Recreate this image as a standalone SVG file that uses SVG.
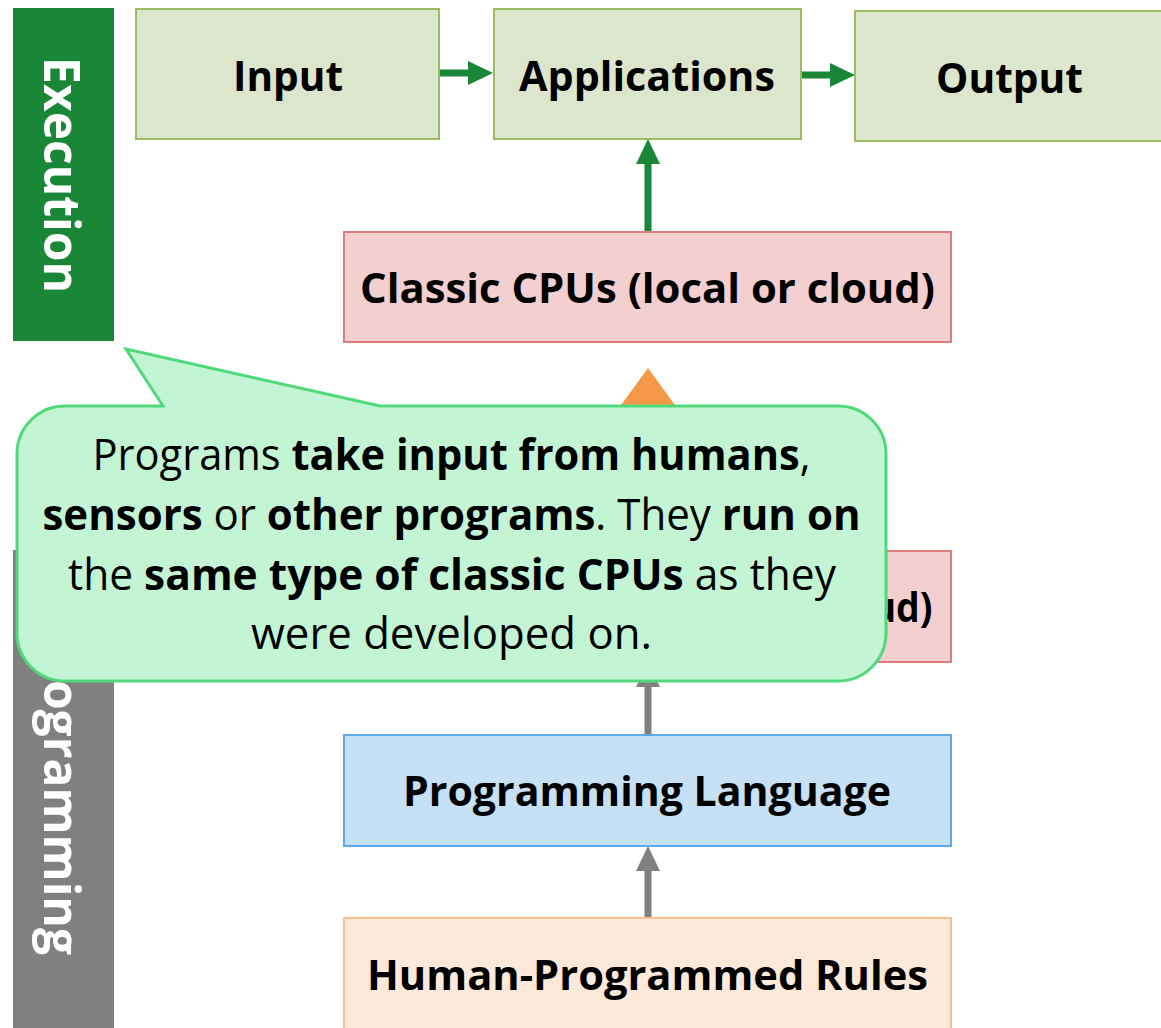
<svg xmlns="http://www.w3.org/2000/svg" width="1161" height="1028" viewBox="0 0 1161 1028">
  <style>
    .lbl { font-family: "Open Sans", "Noto Sans", "Liberation Sans", sans-serif; font-weight: 700; font-size: 42px; fill: #000; text-anchor: middle; }
    .bar { font-family: "Open Sans", "Noto Sans", "Liberation Sans", sans-serif; font-weight: 700; font-size: 51px; fill: #fff; }
    .note { font-family: "Open Sans", "Noto Sans", "Liberation Sans", sans-serif; font-size: 43.5px; fill: #000; text-anchor: middle; }
    .note .b { font-weight: 700; }
    .green { fill: #dce6cc; stroke: #9dbb61; stroke-width: 2; }
    .red { fill: #f3cfcf; stroke: #e07b7b; stroke-width: 2; }
    .blue { fill: #c6e0f6; stroke: #5ea7e8; stroke-width: 2; }
    .peach { fill: #fce9da; stroke: #f8c08f; stroke-width: 2; }
    .arr-g { stroke: #1a8638; stroke-width: 7; fill: none; }
    .arr-k { stroke: #808080; stroke-width: 7; fill: none; }
    .arr-o { stroke: #f29847; stroke-width: 14; fill: none; }
  </style>
  <defs>
    <marker id="head-green" markerUnits="userSpaceOnUse" markerWidth="26" markerHeight="26" viewBox="0 0 26 26" refX="0" refY="12" orient="auto" overflow="visible">
      <path d="M0,0 L25,12 L0,24 z" fill="#1a8638"/>
    </marker>
    <marker id="head-gray" markerUnits="userSpaceOnUse" markerWidth="26" markerHeight="26" viewBox="0 0 26 26" refX="0" refY="12" orient="auto" overflow="visible">
      <path d="M0,0 L25,12 L0,24 z" fill="#808080"/>
    </marker>
    <marker id="head-orange" markerUnits="userSpaceOnUse" markerWidth="62" markerHeight="90" viewBox="0 0 62 90" refX="0" refY="45" orient="auto" overflow="visible">
      <path d="M0,0 L62,45 L0,90 z" fill="#f29847"/>
    </marker>
  </defs>

  <!-- side bands -->
  <g id="band-execution">
    <rect x="13" y="8" width="101" height="333" fill="#1a8638"/>
    <text class="bar" transform="translate(44,175) rotate(90)" text-anchor="middle" textLength="236" lengthAdjust="spacingAndGlyphs">Execution</text>
  </g>
  <g id="band-programming">
    <rect x="13" y="550" width="101" height="478" fill="#808080"/>
    <text class="bar" transform="translate(44,628) rotate(90)" textLength="327" lengthAdjust="spacingAndGlyphs">Programming</text>
  </g>

  <!-- connectors -->
  <g id="connectors">
    <line class="arr-g" x1="439" y1="73" x2="468" y2="73" marker-end="url(#head-green)"/>
    <line class="arr-g" x1="801" y1="75" x2="830" y2="75" marker-end="url(#head-green)"/>
    <line class="arr-g" x1="648" y1="232" x2="648" y2="164" marker-end="url(#head-green)"/>
    <line class="arr-o" x1="648" y1="551" x2="648" y2="430" marker-end="url(#head-orange)"/>
    <line class="arr-k" x1="648" y1="735" x2="648" y2="687" marker-end="url(#head-gray)"/>
    <line class="arr-k" x1="648" y1="918" x2="648" y2="871" marker-end="url(#head-gray)"/>
  </g>

  <!-- nodes -->
  <g id="node-input">
    <rect class="green" x="136" y="9" width="303" height="130"/>
    <text class="lbl" x="288" y="91" textLength="110" lengthAdjust="spacingAndGlyphs">Input</text>
  </g>
  <g id="node-applications">
    <rect class="green" x="494" y="9" width="307" height="130"/>
    <text class="lbl" x="647" y="91" textLength="256" lengthAdjust="spacingAndGlyphs">Applications</text>
  </g>
  <g id="node-output">
    <rect class="green" x="855" y="11" width="310" height="130"/>
    <text class="lbl" x="1009.5" y="93" textLength="147" lengthAdjust="spacingAndGlyphs">Output</text>
  </g>
  <g id="node-cpu-exec">
    <rect class="red" x="344" y="232" width="607" height="110"/>
    <text class="lbl" x="647.5" y="303" textLength="575" lengthAdjust="spacingAndGlyphs">Classic CPUs (local or cloud)</text>
  </g>
  <g id="node-cpu-dev">
    <rect class="red" x="344" y="551" width="607" height="111"/>
    <text class="lbl" x="902" y="622" textLength="61" lengthAdjust="spacingAndGlyphs">ud)</text>
  </g>
  <g id="node-language">
    <rect class="blue" x="344" y="735" width="607" height="111"/>
    <text class="lbl" x="647" y="806" textLength="488" lengthAdjust="spacingAndGlyphs">Programming Language</text>
  </g>
  <g id="node-rules">
    <rect class="peach" x="344" y="918" width="607" height="112"/>
    <text class="lbl" x="647.5" y="990" textLength="561" lengthAdjust="spacingAndGlyphs">Human-Programmed Rules</text>
  </g>

  <!-- speech bubble -->
  <g id="callout">
    <path d="M65,406 L163,406 L126,349 L380,406 L838,406 A48,48 0 0 1 886,454 L886,633 A48,48 0 0 1 838,681 L65,681 A48,48 0 0 1 17,633 L17,454 A48,48 0 0 1 65,406 Z" fill="#c3f5d4" stroke="#50d97b" stroke-width="3" stroke-linejoin="miter"/>
    <text class="note" x="451.5" y="470" textLength="718" lengthAdjust="spacingAndGlyphs">Programs <tspan class="b">take input from humans</tspan>,</text>
    <text class="note" x="451.5" y="530" textLength="818" lengthAdjust="spacingAndGlyphs"><tspan class="b">sensors</tspan> or <tspan class="b">other programs</tspan>. They <tspan class="b">run on</tspan></text>
    <text class="note" x="452" y="590" textLength="768" lengthAdjust="spacingAndGlyphs">the <tspan class="b">same type of classic CPUs</tspan> as they</text>
    <text class="note" x="451.5" y="649" textLength="401" lengthAdjust="spacingAndGlyphs">were developed on.</text>
  </g>
</svg>
